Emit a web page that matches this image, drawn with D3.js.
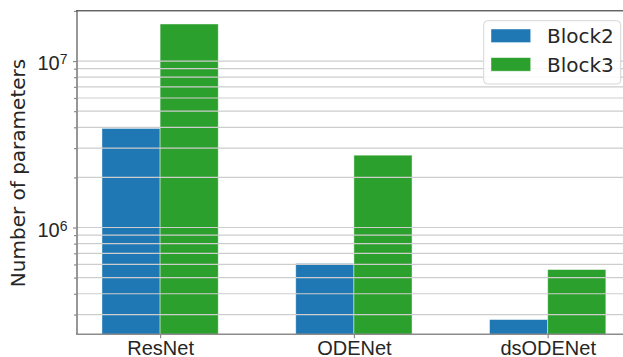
<!DOCTYPE html>
<html>
<head>
<meta charset="utf-8">
<script src="https://cdn.jsdelivr.net/npm/d3@7"></script>
<style>
  html, body { margin: 0; padding: 0; background: #fff; }
  svg { display: block; font-family: "DejaVu Sans", sans-serif; }
</style>
</head>
<body>
<svg id="chart" width="623" height="357"></svg>
<script>
// Parameter counts per network, for two block configurations
const categories = ["ResNet", "ODENet", "dsODENet"];
const seriesNames = ["Block2", "Block3"];
const block2 = [3.94e6, 6.08e5, 2.80e5];
const block3 = [1.67e7, 2.72e6, 5.59e5];
const majorTicks = [1e6, 1e7];
const yLabel = "Number of parameters";

const colors = ["#1f77b4", "#2ca02c"];
const series = [block2, block3];

const svg = d3.select("#chart");
const plot = { left: 77, top: 10.7, right: 630.8, bottom: 334.3 };

const x = d3.scaleLinear()
  .domain([-0.4288, categories.length - 1 + 0.4288])
  .range([plot.left, plot.right]);
const y = d3.scaleLog()
  .domain([2.283e5, 2.007e7])
  .range([plot.bottom, plot.top]);

const barW = 0.3;

// clip region for the plotting area
svg.append("defs").append("clipPath").attr("id", "plotclip")
  .append("rect")
  .attr("x", plot.left).attr("y", plot.top)
  .attr("width", plot.right - plot.left).attr("height", plot.bottom - plot.top);

const body = svg.append("g").attr("clip-path", "url(#plotclip)");

// bars
series.forEach((vals, s) => {
  body.append("g").selectAll("rect").data(vals).join("rect")
    .attr("x", (d, i) => x(i + (s === 0 ? -barW : 0)))
    .attr("width", x(barW) - x(0))
    .attr("y", d => y(d))
    .attr("height", d => plot.bottom + 5 - y(d))
    .attr("fill", colors[s])
    .attr("stroke", "rgba(255,255,255,0.55)")
    .attr("stroke-width", 0.8);
});

// horizontal grid at major and minor log ticks, drawn above the bars
const [lo, hi] = y.domain();
const minorTicks = [];
for (let e = Math.floor(Math.log10(lo)); e <= Math.ceil(Math.log10(hi)); e++) {
  for (let k = 2; k <= 9; k++) {
    const v = k * Math.pow(10, e);
    if (v >= lo && v <= hi) minorTicks.push(v);
  }
}
body.append("g").selectAll("line").data(minorTicks.concat(majorTicks)).join("line")
  .attr("x1", plot.left).attr("x2", plot.right)
  .attr("y1", d => y(d)).attr("y2", d => y(d))
  .attr("stroke", "#cdcdcd")
  .attr("stroke-width", 1.2);

// y axis: major ticks with 10^n labels, minor ticks unlabeled
const yAxisMajor = d3.axisLeft(y).tickValues(majorTicks).tickSize(4).tickPadding(5)
  .tickFormat(() => "");
const yAxisMinor = d3.axisLeft(y).tickValues(minorTicks).tickSize(3).tickFormat(() => "");

const gyMinor = svg.append("g").attr("transform", `translate(${plot.left},0)`).call(yAxisMinor);
const gyMajor = svg.append("g").attr("transform", `translate(${plot.left},0)`).call(yAxisMajor);
[gyMinor, gyMajor].forEach(g => {
  g.select(".domain").remove();
  g.selectAll(".tick line").attr("stroke", "#8c8c8c").attr("stroke-width", 1.2);
});
gyMajor.selectAll(".tick").each(function(d) {
  const t = d3.select(this).select("text")
    .attr("x", -9.5).attr("dy", null).attr("y", 8.6)
    .attr("text-anchor", "end")
    .attr("fill", "#262626")
    .style("font-size", "20px")
    .text(null);
  t.append("tspan").text("10");
  t.append("tspan").attr("dy", -6).style("font-size", "14px")
    .text(String(Math.round(Math.log10(d))));
});

// x axis
const xAxis = d3.axisBottom(x).tickValues(d3.range(categories.length))
  .tickSize(4).tickPadding(4).tickFormat(i => categories[i]);
const gx = svg.append("g").attr("transform", `translate(0,${plot.bottom})`).call(xAxis);
gx.select(".domain").remove();
gx.selectAll(".tick line").attr("stroke", "#8c8c8c").attr("stroke-width", 1.2);
gx.selectAll(".tick text")
  .attr("fill", "#262626")
  .attr("dy", null).attr("y", 20.5)
  .style("font-size", "20px");

// spines
svg.append("line").attr("x1", plot.left).attr("x2", plot.left)
  .attr("y1", plot.top).attr("y2", plot.bottom)
  .attr("stroke", "#8c8c8c").attr("stroke-width", 1.8);
svg.append("line").attr("x1", plot.left - 1).attr("x2", plot.right)
  .attr("y1", plot.bottom).attr("y2", plot.bottom)
  .attr("stroke", "#8c8c8c").attr("stroke-width", 1.5);
svg.append("line").attr("x1", plot.left - 1).attr("x2", plot.right)
  .attr("y1", plot.top).attr("y2", plot.top)
  .attr("stroke", "#333333").attr("stroke-width", 1.1);

// y label
svg.append("text")
  .attr("transform", `translate(25,173) rotate(-90)`)
  .attr("text-anchor", "middle")
  .attr("fill", "#262626")
  .style("font-size", "20px")
  .text(yLabel);

// legend
const legend = svg.append("g");
legend.append("rect")
  .attr("x", 483.7).attr("y", 20.7).attr("width", 137).attr("height", 63.3)
  .attr("rx", 4).attr("ry", 4)
  .attr("fill", "rgba(255,255,255,0.85)")
  .attr("stroke", "#d6d6d6").attr("stroke-width", 1);
seriesNames.forEach((name, s) => {
  const cy = 35.8 + s * 28.6;
  legend.append("rect")
    .attr("x", 491).attr("y", cy - 6.8).attr("width", 39.7).attr("height", 13.6)
    .attr("fill", colors[s])
    .attr("stroke", "rgba(255,255,255,0.55)").attr("stroke-width", 0.8);
  legend.append("text")
    .attr("x", 547).attr("y", cy + 7.4)
    .attr("fill", "#262626")
    .style("font-size", "20px")
    .text(name);
});
</script>
</body>
</html>
